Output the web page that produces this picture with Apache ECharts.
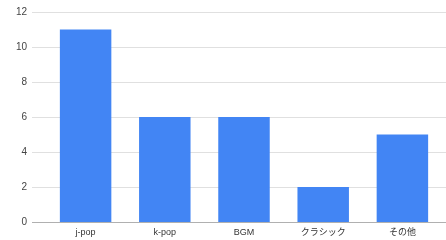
<!DOCTYPE html>
<html>
<head>
<meta charset="utf-8">
<script src="https://cdn.jsdelivr.net/npm/echarts@6/dist/echarts.min.js"></script>
<style>
  html, body { margin: 0; padding: 0; background: #fff; }
  #chart { width: 446px; height: 240px; }
</style>
</head>
<body>
<div id="chart"></div>
<script>
const categories = ['j-pop', 'k-pop', 'BGM', 'クラシック', 'その他']
const counts = [11, 6, 6, 2, 5]
const yTicks = { min: 0, max: 12, interval: 2 }

const chart = echarts.init(document.getElementById('chart'))
const font = 'Liberation Sans, Arial, "Noto Sans CJK JP", sans-serif'

chart.setOption({
  animation: false,
  grid: [
    // wide grid: only for the gridlines and y labels
    { left: 32, right: 0, top: 12, bottom: 18 },
    // bars
    { left: 46, right: 4, top: 12, bottom: 18 }
  ],
  xAxis: [
    { gridIndex: 0, type: 'category', data: categories, show: false },
    {
      gridIndex: 1,
      type: 'category',
      data: categories,
      axisTick: { show: false },
      axisLine: { show: false },
      axisLabel: { color: '#333', fontSize: 9, fontFamily: font, margin: 6 }
    }
  ],
  yAxis: [
    {
      gridIndex: 0,
      type: 'value',
      ...yTicks,
      axisLine: { show: false },
      axisTick: { show: false },
      axisLabel: { color: '#444', fontSize: 10, fontFamily: font, margin: 5 },
      splitLine: { lineStyle: { color: '#e0e0e0', width: 1 } }
    },
    {
      gridIndex: 1,
      type: 'value',
      ...yTicks,
      show: false
    }
  ],
  series: [
    {
      type: 'bar',
      xAxisIndex: 1,
      yAxisIndex: 1,
      data: counts,
      barCategoryGap: '35%',
      itemStyle: { color: '#4285f4' }
    },
    {
      // baseline drawn on the wide grid
      type: 'line',
      xAxisIndex: 0,
      yAxisIndex: 0,
      data: [],
      markLine: {
        silent: true,
        symbol: 'none',
        label: { show: false },
        lineStyle: { color: '#b0b0b0', type: 'solid', width: 1 },
        data: [{ yAxis: 0 }]
      }
    }
  ]
})
</script>
</body>
</html>
